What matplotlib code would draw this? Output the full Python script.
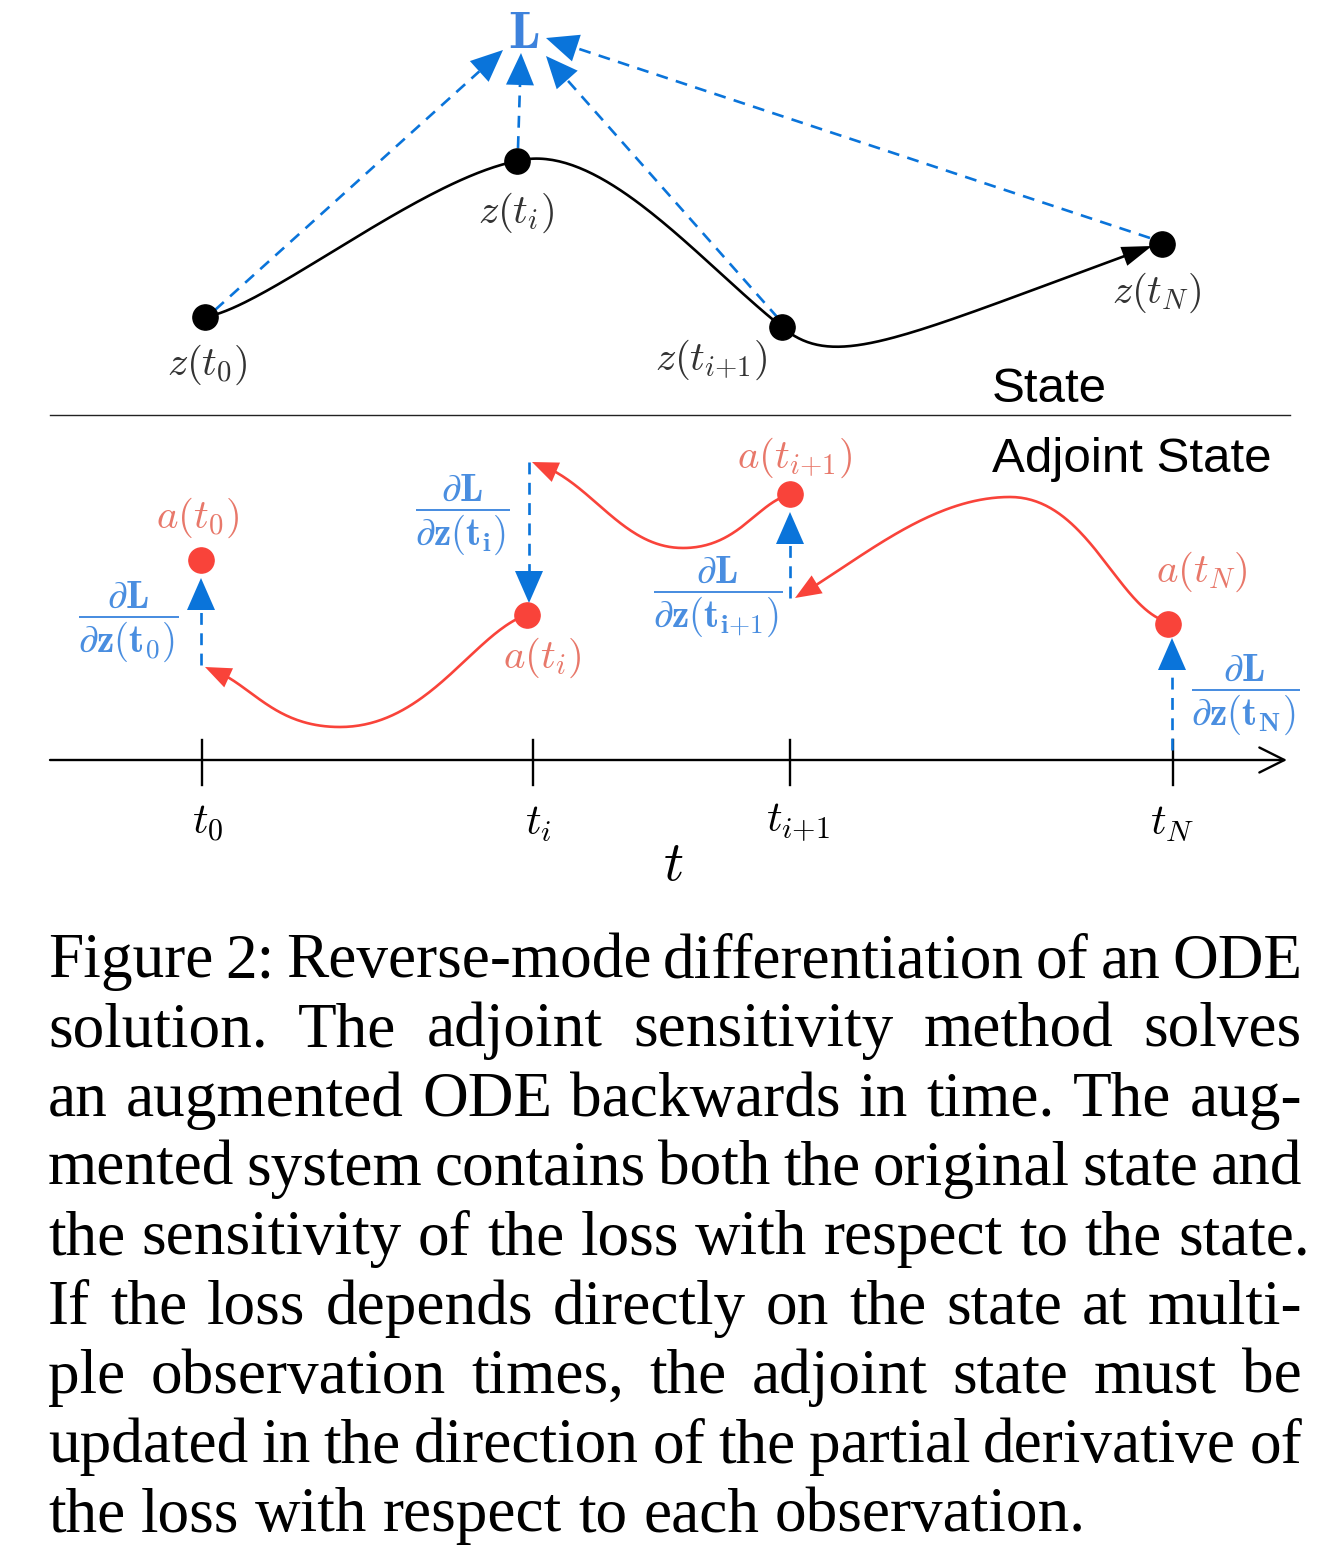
import numpy as np
import matplotlib.pyplot as plt
from matplotlib.patches import Polygon

plt.rcParams['mathtext.fontset'] = 'cm'

# Figure canvas in pixel units (1342 x 1556)
W, H = 1342, 1556

# State nodes
state_labels = [r'$z(t_0)$', r'$z(t_i)$', r'$z(t_{i{+}1})$', r'$z(t_N)$']
state_x = [205, 517, 782, 1162]
state_y = [317, 161, 327, 244]
state_label_x = [207, 516, 711, 1157]
state_label_y = [365, 213, 360, 293]

# Loss node
loss_x, loss_y = 524, 33
# dashed links node -> L  (start, tip)
link_start = [(215, 310), (518, 148), (778, 318), (1150, 238)]
link_tip = [(503, 50), (521, 53), (546, 56), (546, 38)]

# state curve (cubic bezier segments)
state_curve = [
    [(205, 317), (265, 308), (420, 180), (517, 161)],
    [(517, 161), (600, 140), (700, 262), (782, 327)],
    [(782, 327), (835, 372), (900, 338), (1152, 246)],
]

# Adjoint nodes
adj_labels = [r'$a(t_0)$', r'$a(t_i)$', r'$a(t_{i{+}1})$', r'$a(t_N)$']
adj_x = [201, 527, 790, 1168]
adj_y = [560, 615, 494, 624]
adj_label_x = [198, 542, 795, 1202]
adj_label_y = [518, 658, 458, 572]

# dL/dz jumps (start, tip)
jump_start = [(201, 665), (529, 462), (790, 598), (1172, 750)]
jump_tip = [(201, 578), (529, 603), (790, 512), (1172, 638)]
frac_labels = [r'$\dfrac{\partial\mathbf{L}}{\partial\mathbf{z}(\mathbf{t_0})}$',
               r'$\dfrac{\partial\mathbf{L}}{\partial\mathbf{z}(\mathbf{t_i})}$',
               r'$\dfrac{\partial\mathbf{L}}{\partial\mathbf{z}(\mathbf{t_{i{+}1}})}$',
               r'$\dfrac{\partial\mathbf{L}}{\partial\mathbf{z}(\mathbf{t_N})}$']
frac_x = [128, 462, 718, 1245]
frac_y = [622, 515, 597, 695]

# adjoint curves (backwards in time)
adj_curves = [
    [[(1162, 620), (1115, 600), (1085, 497), (1010, 497)],
     [(1010, 497), (930, 497), (860, 560), (795, 598)]],
    [[(783, 497), (755, 508), (735, 548), (683, 548)],
     [(683, 548), (620, 548), (590, 478), (532, 462)]],
    [[(521, 617), (470, 640), (425, 727), (340, 727)],
     [(340, 727), (270, 727), (250, 680), (205, 667)]],
]

# time axis
axis_y = 760
axis_x0, axis_x1 = 50, 1287
tick_x = [202, 533, 790, 1173]
tick_labels = [r'$t_0$', r'$t_i$', r'$t_{i{+}1}$', r'$t_N$']
tick_label_x = [208, 538, 798, 1172]

caption_lines = [
    "Figure 2: Reverse-mode differentiation of an ODE",
    "solution.  The adjoint sensitivity method solves",
    "an augmented ODE backwards in time. The aug-",
    "mented system contains both the original state and",
    "the sensitivity of the loss with respect to the state.",
    "If the loss depends directly on the state at multi-",
    "ple observation times, the adjoint state must be",
    "updated in the direction of the partial derivative of",
    "the loss with respect to each observation.",
]

BLUE = '#0a74da'
BLUE_TXT = '#4a8ee0'
RED = '#f9433a'
RED_TXT = '#e8786a'
GREY = '#333333'

fig = plt.figure(figsize=(W / 100, H / 100), dpi=100)
ax = fig.add_axes([0, 0, 1, 1])
ax.set_xlim(0, W)
ax.set_ylim(H, 0)
ax.axis('off')


def head(tip, base_dir, length, width, color):
    tip = np.array(tip, float)
    u = np.array(base_dir, float)
    u = u / np.linalg.norm(u)
    p = np.array([-u[1], u[0]])
    base = tip - u * length
    ax.add_patch(Polygon([tip, base + p * width / 2, base - p * width / 2],
                         closed=True, color=color, lw=0, zorder=5))
    return base


def dashed_arrow(start, tip, color=BLUE, length=32, width=28):
    d = np.array(tip, float) - np.array(start, float)
    base = head(tip, d, length, width, color)
    ax.plot([start[0], base[0]], [start[1], base[1]], color=color, lw=1.9,
            ls=(0, (4.5, 3.2)), zorder=4)


def bezier(segs, n=80):
    pts = []
    t = np.linspace(0, 1, n)[:, None]
    for P0, C1, C2, P3 in segs:
        P0, C1, C2, P3 = map(np.array, (P0, C1, C2, P3))
        b = (1 - t) ** 3 * P0 + 3 * (1 - t) ** 2 * t * C1 + 3 * (1 - t) * t ** 2 * C2 + t ** 3 * P3
        pts.append(b)
    return np.vstack(pts)


def curve_arrow(segs, color, lw, length, width):
    pts = bezier(segs)
    tip = pts[-1]
    dist = np.hypot(*(pts - tip).T)
    back = pts[dist > length][-1]
    head(tip, tip - back, length, width, color)
    keep = pts[dist > length * 0.8]
    ax.plot(keep[:, 0], keep[:, 1], color=color, lw=lw, solid_capstyle='round', zorder=3)


# ---- State panel ----
curve_arrow(state_curve, 'black', 1.9, 30, 20)
for s, t in zip(link_start, link_tip):
    dashed_arrow(s, t)
ax.scatter(state_x, state_y, s=330, color='black', zorder=6)
for lab, x, y in zip(state_labels, state_label_x, state_label_y):
    ax.text(x, y, lab, fontsize=29.5, color=GREY, ha='center', va='center')
ax.text(loss_x, loss_y, r'$\mathbf{L}$', fontsize=38, color='#3d82dc', ha='center', va='center')

ax.plot([50, 1290], [415, 415], color='#222222', lw=1.0)
ax.text(992, 402, 'State', fontsize=35.5, family='Liberation Sans', ha='left', va='baseline')
ax.text(992, 472, 'Adjoint State', fontsize=35.5, family='Liberation Sans', ha='left', va='baseline')

# ---- Adjoint panel ----
for segs in adj_curves:
    curve_arrow(segs, RED, 1.9, 26, 21)
for s, t in zip(jump_start, jump_tip):
    dashed_arrow(s, t)
ax.scatter(adj_x, adj_y, s=330, color=RED, zorder=6)
for lab, x, y in zip(adj_labels, adj_label_x, adj_label_y):
    ax.text(x, y, lab, fontsize=29.5, color=RED_TXT, ha='center', va='center')
for lab, x, y in zip(frac_labels, frac_x, frac_y):
    ax.text(x, y, lab, fontsize=28, color=BLUE_TXT, ha='center', va='center')

# ---- time axis ----
ax.annotate('', xy=(axis_x1, axis_y), xytext=(axis_x0, axis_y),
            arrowprops=dict(arrowstyle='->,head_length=0.9,head_width=0.45',
                            mutation_scale=20, lw=1.7, color='black',
                            shrinkA=0, shrinkB=0))
for x in tick_x:
    ax.plot([x, x], [740, 785], color='black', lw=1.7)
for lab, x in zip(tick_labels, tick_label_x):
    ax.text(x, 823, lab, fontsize=31, ha='center', va='center')
ax.text(673, 865, r'$t$', fontsize=40, ha='center', va='center')

# ---- caption (justified) ----
renderer = fig.canvas.get_renderer()
left, right = 48, 1302
base0, step = 977, 69.3
for i, line in enumerate(caption_lines):
    y = base0 + i * step
    words = line.split()
    objs = [ax.text(0, y, w, fontsize=45.5, family='Liberation Serif', va='baseline', ha='left')
            for w in words]
    widths = [o.get_window_extent(renderer).width for o in objs]
    if i == len(caption_lines) - 1:
        gap = 0.25 * 63
    else:
        r = 1310 if line.endswith('state.') else right
        gap = (r - left - sum(widths)) / (len(words) - 1)
    x = left
    for o, w in zip(objs, widths):
        o.set_x(x)
        x += w + gap

fig.savefig('out.png', dpi=100)
